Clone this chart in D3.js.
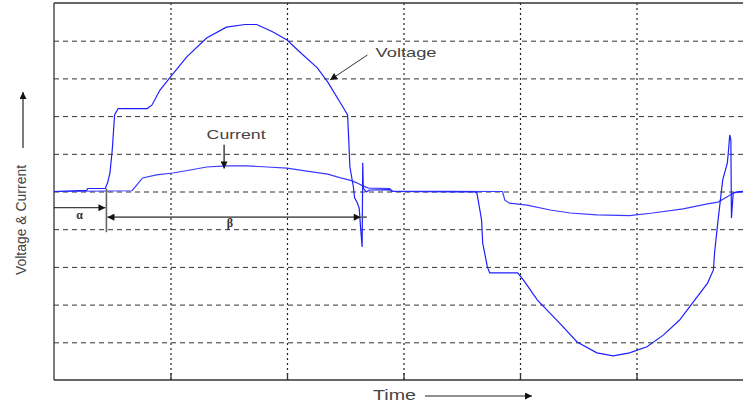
<!DOCTYPE html>
<html>
<head>
<meta charset="utf-8">
<script src="https://cdn.jsdelivr.net/npm/d3@7"></script>
<style>
  body { margin: 0; background: #fff; }
  svg { display: block; }
</style>
</head>
<body>
<div id="chart"></div>
<script>
// Time in grid divisions, amplitude in grid divisions
var voltageT = [0, 0.28, 0.29, 0.44, 0.46, 0.48, 0.50, 0.52, 0.55, 0.80, 0.84, 0.91, 1.00, 1.14, 1.31, 1.48, 1.64, 1.74, 1.88, 2.00,
    2.11, 2.26, 2.35, 2.48, 2.52, 2.53, 2.54, 2.57, 2.58, 2.60, 2.62, 2.63, 2.64, 2.645, 2.65, 2.655, 2.68, 2.71, 2.88, 2.90,
    3.46, 3.61, 3.63, 3.66, 3.67, 3.68, 3.72, 3.74, 3.98, 4.03, 4.15, 4.23, 4.34, 4.49, 4.66, 4.80, 4.94, 5.09, 5.23, 5.37,
    5.48, 5.61, 5.66, 5.67, 5.70, 5.72, 5.73, 5.74, 5.78, 5.79, 5.80, 5.81, 5.815, 5.83, 5.86, 5.95];
var voltageV = [0, 0.03, 0.08, 0.08, 0.23, 0.49, 1.10, 2.03, 2.20, 2.20, 2.29, 2.69, 3.04, 3.57, 4.07, 4.36, 4.43, 4.43, 4.23, 4.02,
    3.70, 3.28, 2.90, 2.24, 2.03, 1.37, 0.65, 0.12, -0.17, -0.28, -0.44, -0.89, -1.29, -1.47, 0.76, 0.09, -0.01, 0.04, 0.05, 0,
    -0.01, -0.01, -0.04, -0.57, -0.76, -1.37, -2.00, -2.16, -2.16, -2.35, -2.88, -3.14, -3.49, -3.99, -4.28, -4.36, -4.28, -4.12, -3.81, -3.41,
    -2.96, -2.43, -2.08, -1.63, -0.76, -0.23, 0.04, 0.31, 0.76, 1.10, 1.50, 1.37, -0.70, -0.04, -0.01, 0.01];

var currentT = [0, 0.67, 0.71, 0.76, 0.88, 1.02, 1.17, 1.31, 1.48, 1.66, 1.83, 2.00, 2.17, 2.35, 2.46, 2.54, 2.60, 2.65, 2.70, 2.88, 2.91,
    3.85, 3.87, 3.91, 4.06, 4.26, 4.43, 4.66, 4.94, 5.14, 5.40, 5.61, 5.70, 5.79, 5.83, 5.95];
var currentV = [0, 0.02, 0.17, 0.36, 0.44, 0.49, 0.57, 0.65, 0.68, 0.68, 0.65, 0.62, 0.54, 0.46, 0.36, 0.30, 0.23, 0.15, 0.09, 0.08, 0.01,
    0, -0.23, -0.31, -0.36, -0.49, -0.57, -0.62, -0.64, -0.57, -0.46, -0.33, -0.28, -0.12, -0.04, 0.01];

var xGrid = [1, 2, 3, 4, 5];
var yGrid = [-4, -3, -2, -1, 0, 1, 2, 3, 4];

// firing angle (alpha) and conduction angle (beta), in divisions
var alphaEnd = 0.45;
var betaEnd = 2.65;

var W = 743, H = 406;
var margin = {top: 3, left: 54, bottom: 26};
var plotH = H - margin.top - margin.bottom;

var svg = d3.select("#chart").append("svg")
    .attr("width", W)
    .attr("height", H);

var x = d3.scaleLinear().domain([0, 6]).range([margin.left, margin.left + 6 * 116.5]);
var y = d3.scaleLinear().domain([-5, 5]).range([margin.top + plotH, margin.top]);

var defs = svg.append("defs");
function marker(id, color) {
    defs.append("marker")
        .attr("id", id)
        .attr("viewBox", "0 0 10 10")
        .attr("refX", 10).attr("refY", 5)
        .attr("markerUnits", "userSpaceOnUse")
        .attr("markerWidth", 9).attr("markerHeight", 7)
        .attr("orient", "auto-start-reverse")
        .append("path")
        .attr("d", "M0,0L10,5L0,10z")
        .attr("fill", color);
}
marker("ah", "#111");

// horizontal dashed grid
svg.append("g")
    .attr("transform", "translate(" + margin.left + ",0)")
    .call(d3.axisLeft(y).tickValues(yGrid).tickSize(-(W - margin.left)).tickFormat(""))
    .call(g => g.select(".domain").remove())
    .call(g => g.selectAll(".tick line")
        .attr("stroke", "#333")
        .attr("stroke-width", 1)
        .attr("stroke-dasharray", "5,4"));

// vertical dotted grid
svg.append("g")
    .attr("transform", "translate(0," + y(-5) + ")")
    .call(d3.axisBottom(x).tickValues(xGrid).tickSize(-plotH).tickFormat(""))
    .call(g => g.select(".domain").remove())
    .call(g => g.selectAll(".tick line")
        .attr("stroke", "#222")
        .attr("stroke-width", 1.2)
        .attr("stroke-dasharray", "2,3"));

// small inward ticks on the bottom frame
svg.append("g")
    .attr("transform", "translate(0," + y(-5) + ")")
    .call(d3.axisBottom(x).tickValues(xGrid).tickSize(-7).tickFormat(""))
    .call(g => g.select(".domain").remove())
    .call(g => g.selectAll(".tick line").attr("stroke", "#333").attr("stroke-width", 1.3));

// frame: left, top, bottom
var frame = svg.append("g").attr("stroke", "#333").attr("stroke-width", 1.3).attr("fill", "none");
frame.append("line").attr("x1", x(0)).attr("x2", x(0)).attr("y1", y(5)).attr("y2", y(-5));
frame.append("line").attr("x1", x(0)).attr("x2", W).attr("y1", y(5)).attr("y2", y(5));
frame.append("line").attr("x1", x(0)).attr("x2", W).attr("y1", y(-5)).attr("y2", y(-5));

// traces
var line = d3.line()
    .x(function(d) { return x(d[0]); })
    .y(function(d) { return y(d[1]); });

var currentData = d3.zip(currentT, currentV);
var voltageData = d3.zip(voltageT, voltageV);

svg.append("path")
    .datum(currentData)
    .attr("fill", "none")
    .attr("stroke", "#3a3aff")
    .attr("stroke-width", 1.2)
    .attr("d", line);

svg.append("path")
    .datum(voltageData)
    .attr("fill", "none")
    .attr("stroke", "#1f1fff")
    .attr("stroke-width", 1.2)
    .attr("d", line);

// labels with pointer arrows
var ann = svg.append("g").attr("font-family", "'Liberation Sans', Arial, sans-serif").attr("fill", "#444");

ann.append("text")
    .attr("x", x(2.76)).attr("y", y(3.56))
    .attr("font-size", 13)
    .attr("textLength", 61).attr("lengthAdjust", "spacingAndGlyphs")
    .text("Voltage");
svg.append("line")
    .attr("x1", x(2.69)).attr("y1", y(3.62))
    .attr("x2", x(2.37)).attr("y2", y(2.96))
    .attr("stroke", "#333").attr("stroke-width", 1)
    .attr("marker-end", "url(#ah)");

ann.append("text")
    .attr("x", x(1.31)).attr("y", y(1.38))
    .attr("font-size", 13)
    .attr("textLength", 59).attr("lengthAdjust", "spacingAndGlyphs")
    .text("Current");
svg.append("line")
    .attr("x1", x(1.46)).attr("y1", y(1.24))
    .attr("x2", x(1.46)).attr("y2", y(0.61))
    .attr("stroke", "#111").attr("stroke-width", 1.2)
    .attr("marker-end", "url(#ah)");

// alpha / beta markers
svg.append("line")
    .attr("x1", x(alphaEnd)).attr("x2", x(alphaEnd))
    .attr("y1", y(0.08)).attr("y2", y(-1.08))
    .attr("stroke", "#666").attr("stroke-width", 1.6);
svg.append("line")
    .attr("x1", x(0)).attr("x2", x(alphaEnd) - 1)
    .attr("y1", y(-0.43)).attr("y2", y(-0.43))
    .attr("stroke", "#111").attr("stroke-width", 1)
    .attr("marker-end", "url(#ah)");
svg.append("line")
    .attr("x1", x(alphaEnd) + 1).attr("x2", x(betaEnd) - 2)
    .attr("y1", y(-0.68)).attr("y2", y(-0.68))
    .attr("stroke", "#666").attr("stroke-width", 1.8)
    .attr("marker-start", "url(#ah)")
    .attr("marker-end", "url(#ah)");
svg.append("line")
    .attr("x1", x(betaEnd) - 2).attr("x2", x(betaEnd) + 4)
    .attr("y1", y(-0.68)).attr("y2", y(-0.68))
    .attr("stroke", "#666").attr("stroke-width", 1.8);

var greek = svg.append("g").attr("font-family", "'Liberation Serif', 'Times New Roman', serif")
    .attr("font-weight", "bold").attr("font-size", 12).attr("fill", "#333").attr("text-anchor", "middle");
greek.append("text").attr("x", x(0.22)).attr("y", y(-0.72)).text("α");
greek.append("text").attr("x", x(1.51)).attr("y", y(-0.95)).text("β");

// axis titles
svg.append("text")
    .attr("transform", "translate(26,220) rotate(-90)")
    .attr("text-anchor", "middle")
    .attr("font-family", "'Liberation Sans', Arial, sans-serif")
    .attr("font-size", 15)
    .attr("fill", "#444")
    .attr("textLength", 110).attr("lengthAdjust", "spacingAndGlyphs")
    .text("Voltage & Current");
svg.append("line")
    .attr("x1", 23).attr("x2", 23).attr("y1", 148).attr("y2", 92)
    .attr("stroke", "#222").attr("stroke-width", 1.2)
    .attr("marker-end", "url(#ah)");

svg.append("text")
    .attr("x", 373).attr("y", 400)
    .attr("font-family", "'Liberation Sans', Arial, sans-serif")
    .attr("font-size", 14)
    .attr("fill", "#444")
    .attr("textLength", 43).attr("lengthAdjust", "spacingAndGlyphs")
    .text("Time");
svg.append("line")
    .attr("x1", 425).attr("x2", 532).attr("y1", 396).attr("y2", 396)
    .attr("stroke", "#222").attr("stroke-width", 1.2)
    .attr("marker-end", "url(#ah)");
</script>
</body>
</html>
